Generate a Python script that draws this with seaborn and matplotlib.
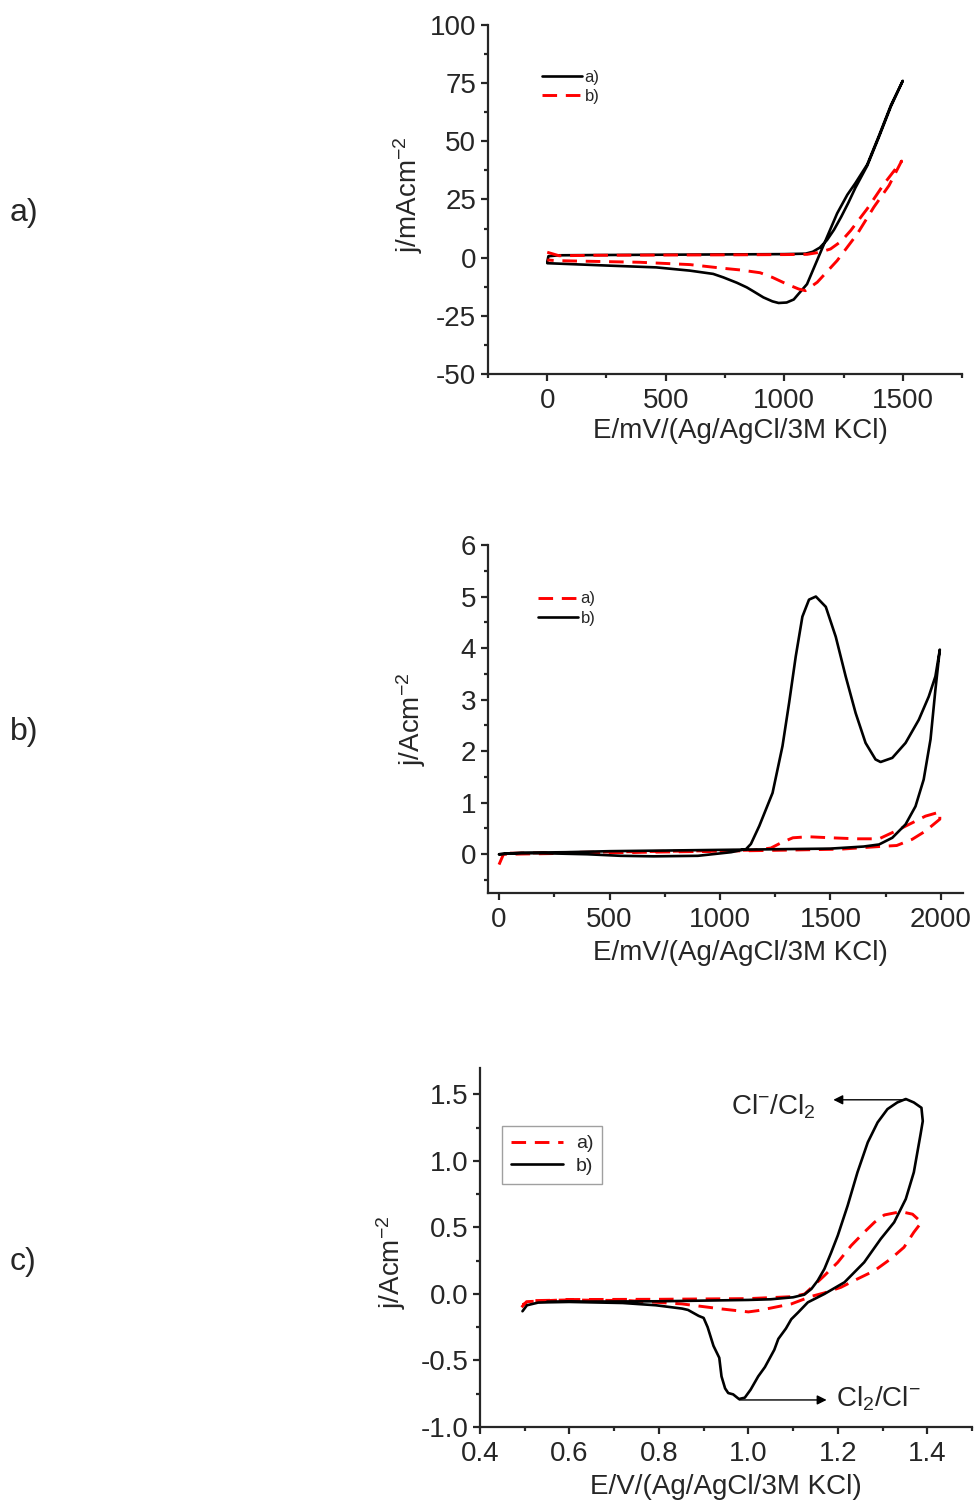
import matplotlib
matplotlib.use("Agg")
import matplotlib.pyplot as plt
from matplotlib.ticker import MultipleLocator
from matplotlib.lines import Line2D
import pandas as pd
import seaborn as sns

# ---- panel a) j / mA cm-2 vs E / mV ----
a_sol_E = [0, 5, 50, 200, 400, 600, 800, 1000, 1090, 1120, 1150, 1180, 1210, 1240, 1270, 1300, 1350, 1400, 1450, 1500,
           1450, 1400, 1350, 1300, 1266, 1223, 1181, 1138, 1096, 1061, 1040, 1010, 976, 950, 912, 870, 842, 800, 743,
           700, 602, 460, 249, 100, 0]
a_sol_j = [-1.8, 0.6, 1.0, 1.1, 1.2, 1.3, 1.4, 1.5, 1.7, 2.5, 4.3, 7.5, 12.0, 17.5, 23.5, 30.0, 39.5, 52.0, 65.0, 76.0,
           65.5, 52.5, 40.0, 32.0, 27.0, 19.0, 9.0, -1.3, -11.4, -15.5, -18.0, -19.3, -19.5, -18.8, -17.1, -14.5, -12.8,
           -10.8, -8.5, -7.0, -5.6, -4.2, -3.4, -2.8, -2.4]
a_red_E = [0, 50, 200, 500, 800, 1000, 1096, 1150, 1195, 1240, 1280, 1350, 1421, 1495,
           1442, 1378, 1308, 1223, 1139, 1089, 1061, 1011, 950, 898, 814, 743, 602, 390, 37, 0]
a_red_j = [2.3, 0.8, 1.0, 1.1, 1.2, 1.3, 1.4, 2.3, 3.7, 7.0, 11.6, 21.0, 31.7, 41.5,
           31.0, 21.7, 10.2, -1.3, -10.6, -14.2, -13.5, -11.4, -8.5, -6.5, -5.3, -4.6, -3.0, -2.0, -1.3, -1.0]

# ---- panel b) j / A cm-2 vs E / mV ----
b_sol_E = [0, 100, 300, 500, 700, 900, 1100, 1300, 1500, 1650, 1720, 1780, 1840, 1885, 1922, 1953, 1975, 1995,
           1975, 1945, 1900, 1840, 1780, 1727, 1704, 1659, 1614, 1569, 1524, 1479, 1434, 1403, 1373, 1343, 1313,
           1283, 1238, 1178, 1140, 1118, 1050, 900, 700, 550, 400, 200, 50, 0]
b_sol_j = [0.0, 0.03, 0.04, 0.06, 0.07, 0.08, 0.09, 0.10, 0.11, 0.15, 0.19, 0.32, 0.58, 0.93, 1.45, 2.23, 3.19, 3.97,
           3.45, 3.06, 2.61, 2.16, 1.87, 1.79, 1.84, 2.16, 2.74, 3.45, 4.22, 4.80, 5.00, 4.94, 4.61, 3.84, 2.94,
           2.10, 1.19, 0.55, 0.20, 0.10, 0.04, -0.03, -0.04, -0.03, 0.0, 0.02, 0.02, 0.0]
b_red_E = [0, 20, 500, 1000, 1300, 1550, 1720, 1800, 1870, 1930, 1995,
           1995, 1930, 1870, 1795, 1720, 1620, 1500, 1400, 1330, 1280, 1230, 1150, 800, 400, 50]
b_red_j = [-0.2, 0.0, 0.03, 0.06, 0.08, 0.10, 0.15, 0.17, 0.29, 0.45, 0.68,
           0.82, 0.74, 0.61, 0.45, 0.30, 0.30, 0.32, 0.34, 0.32, 0.23, 0.12, 0.08, 0.06, 0.04, 0.02]

# ---- panel c) j / A cm-2 vs E / V ----
c_sol_E = [0.495, 0.505, 0.53, 0.6, 0.8, 1.0, 1.05, 1.1, 1.125, 1.141, 1.155, 1.17, 1.185, 1.2, 1.222, 1.244,
           1.267, 1.289, 1.311, 1.333, 1.352, 1.37, 1.387,
           1.39, 1.385, 1.37, 1.352, 1.326, 1.296, 1.259, 1.215, 1.17, 1.133, 1.111, 1.096, 1.084, 1.067, 1.058,
           1.037, 1.022, 1.005, 0.992, 0.979, 0.966, 0.955, 0.948, 0.94, 0.935, 0.922, 0.909, 0.9, 0.889, 0.865,
           0.852, 0.793, 0.719, 0.6, 0.55]
c_sol_j = [-0.13, -0.085, -0.065, -0.058, -0.055, -0.045, -0.04, -0.025, -0.005, 0.038, 0.10, 0.188, 0.31, 0.44,
           0.664, 0.915, 1.14, 1.29, 1.39, 1.44, 1.466, 1.44, 1.40,
           1.30, 1.20, 0.915, 0.714, 0.539, 0.414, 0.238, 0.088, 0.0, -0.063, -0.14, -0.19, -0.26, -0.338, -0.42,
           -0.55, -0.62, -0.72, -0.78, -0.79, -0.755, -0.745, -0.71, -0.62, -0.48, -0.39, -0.25, -0.18, -0.165,
           -0.12, -0.11, -0.085, -0.068, -0.06, -0.058]
c_red_E = [0.493, 0.504, 0.6, 0.8, 1.0, 1.1, 1.126, 1.17, 1.2, 1.23, 1.259, 1.282, 1.304, 1.341, 1.367, 1.387,
           1.37, 1.348, 1.318, 1.282, 1.244, 1.207, 1.17, 1.141, 1.096, 1.059, 1.022, 1.0, 0.941, 0.852, 0.733,
           0.6, 0.52, 0.495]
c_red_j = [-0.1, -0.058, -0.042, -0.04, -0.035, -0.02, 0.0, 0.138, 0.238, 0.364, 0.464, 0.539, 0.594, 0.619,
           0.60, 0.539,
           0.464, 0.351, 0.263, 0.175, 0.113, 0.05, 0.008, -0.018, -0.075, -0.1, -0.125, -0.135, -0.113, -0.075,
           -0.05, -0.045, -0.05, -0.08]

sns.set_style("ticks")
plt.rcParams["font.family"] = ["Liberation Sans", "DejaVu Sans"]
plt.rcParams["mathtext.default"] = "regular"
plt.rcParams["axes.unicode_minus"] = False

RED = "#ff0000"
DASH = (0, (5, 3))
LW_K = 1.9
LW_R = 2.1

fig = plt.figure(figsize=(9.75, 15.03), dpi=100)
ax_a = fig.add_axes([0.5005, 0.7512, 0.4862, 0.2322])
ax_b = fig.add_axes([0.5005, 0.4059, 0.4872, 0.2315])
ax_c = fig.add_axes([0.4923, 0.0506, 0.5046, 0.2389])


def draw(ax, E, j, red):
    df = pd.DataFrame({"E": E, "j": j})
    if red:
        sns.lineplot(data=df, x="E", y="j", sort=False, estimator=None, ax=ax,
                     color=RED, lw=LW_R, linestyle=DASH)
    else:
        sns.lineplot(data=df, x="E", y="j", sort=False, estimator=None, ax=ax,
                     color="black", lw=LW_K)


draw(ax_a, a_sol_E, a_sol_j, False)
draw(ax_a, a_red_E, a_red_j, True)
draw(ax_b, b_red_E, b_red_j, True)
draw(ax_b, b_sol_E, b_sol_j, False)
draw(ax_c, c_red_E, c_red_j, True)
draw(ax_c, c_sol_E, c_sol_j, False)

# axis ranges / ticks
ax_a.set_xlim(-250, 1750)
ax_a.set_ylim(-50, 100)
ax_a.xaxis.set_major_locator(MultipleLocator(500))
ax_a.xaxis.set_minor_locator(MultipleLocator(250))
ax_a.yaxis.set_major_locator(MultipleLocator(25))
ax_a.yaxis.set_minor_locator(MultipleLocator(12.5))

ax_b.set_xlim(-50, 2100)
ax_b.set_ylim(-0.75, 6)
ax_b.xaxis.set_major_locator(MultipleLocator(500))
ax_b.xaxis.set_minor_locator(MultipleLocator(250))
ax_b.yaxis.set_major_locator(MultipleLocator(1))
ax_b.yaxis.set_minor_locator(MultipleLocator(0.5))

ax_c.set_xlim(0.4, 1.5)
ax_c.set_ylim(-1.0, 1.7)
ax_c.xaxis.set_major_locator(MultipleLocator(0.2))
ax_c.xaxis.set_minor_locator(MultipleLocator(0.1))
ax_c.yaxis.set_major_locator(MultipleLocator(0.5))
ax_c.yaxis.set_minor_locator(MultipleLocator(0.25))
ax_c.xaxis.set_major_formatter(plt.FormatStrFormatter("%.1f"))
ax_c.yaxis.set_major_formatter(plt.FormatStrFormatter("%.1f"))

for ax in (ax_a, ax_b, ax_c):
    sns.despine(ax=ax)
    for s in ("left", "bottom"):
        ax.spines[s].set_linewidth(1.6)
    ax.tick_params(which="major", direction="out", length=5, width=1.6, labelsize=20)
    ax.tick_params(which="minor", direction="out", length=3, width=1.6)
    ax.tick_params(axis="x", which="major", pad=5)

ax_a.set_xlabel("E/mV/(Ag/AgCl/3M KCl)", fontsize=20)
ax_a.set_ylabel("j/mAcm$^{-2}$", fontsize=20)
ax_a.xaxis.set_label_coords(0.532, -0.126)
ax_a.yaxis.set_label_coords(-0.133, 0.513)

ax_b.set_xlabel("E/mV/(Ag/AgCl/3M KCl)", fontsize=20)
ax_b.set_ylabel("j/Acm$^{-2}$", fontsize=20)
ax_b.xaxis.set_label_coords(0.531, -0.136)
ax_b.yaxis.set_label_coords(-0.126, 0.5)

ax_c.set_xlabel("E/V/(Ag/AgCl/3M KCl)", fontsize=20)
ax_c.set_ylabel("j/Acm$^{-2}$", fontsize=20)
ax_c.xaxis.set_label_coords(0.5, -0.13)
ax_c.yaxis.set_label_coords(-0.146, 0.46)

# legends
sol = Line2D([], [], color="black", lw=LW_K)
dsh = Line2D([], [], color=RED, lw=LW_R, linestyle=DASH)
ax_a.legend([sol, dsh], ["a)", "b)"], loc="upper left", bbox_to_anchor=(0.556, 0.9535),
            bbox_transform=fig.transFigure, frameon=False, fontsize=12, handlelength=2.4,
            handletextpad=0.15, labelspacing=0.25, borderpad=0, borderaxespad=0)
ax_b.legend([dsh, sol], ["a)", "b)"], loc="upper left", bbox_to_anchor=(0.552, 0.6065),
            bbox_transform=fig.transFigure, frameon=False, fontsize=12, handlelength=2.4,
            handletextpad=0.15, labelspacing=0.25, borderpad=0, borderaxespad=0)
leg = ax_c.legend([dsh, sol], ["a)", "b)"], loc="upper left", bbox_to_anchor=(0.5149, 0.2508),
                  bbox_transform=fig.transFigure, frameon=True, fancybox=False, fontsize=14,
                  handlelength=2.7, handletextpad=0.65, labelspacing=0.25, borderpad=0.45, borderaxespad=0)
leg.get_frame().set_edgecolor("#888888")
leg.get_frame().set_linewidth(1.0)

# annotations in c)
ax_c.annotate("", xy=(1.19, 1.46), xytext=(1.352, 1.46),
              arrowprops=dict(arrowstyle="-|>", color="black", lw=1.0, mutation_scale=14,
                              shrinkA=0, shrinkB=0))
ax_c.text(0.962, 1.406, "Cl$^{-}$/Cl$_{2}$", fontsize=20, ha="left", va="center")
ax_c.annotate("", xy=(1.175, -0.797), xytext=(0.98, -0.797),
              arrowprops=dict(arrowstyle="-|>", color="black", lw=1.0, mutation_scale=14,
                              shrinkA=0, shrinkB=0))
ax_c.text(1.196, -0.79, "Cl$_{2}$/Cl$^{-}$", fontsize=20, ha="left", va="center")

# panel letters
fig.text(0.0103, 0.8583, "a)", fontsize=23, ha="left", va="center")
fig.text(0.0103, 0.513, "b)", fontsize=23, ha="left", va="center")
fig.text(0.0103, 0.1603, "c)", fontsize=23, ha="left", va="center")

fig.savefig("out.png", dpi=100, facecolor="white")
